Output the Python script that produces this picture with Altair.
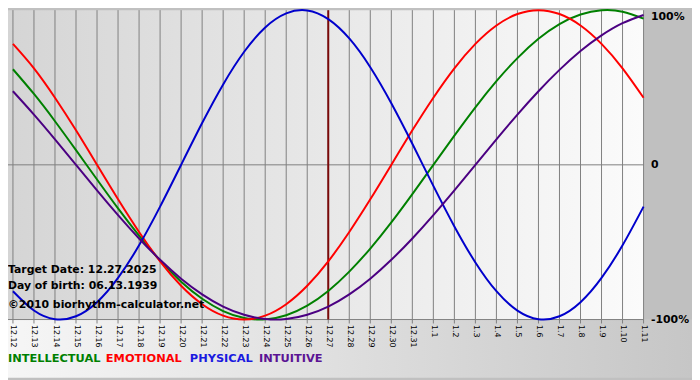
import altair as alt
import pandas as pd

# ---- data ----
days = ["12.12", "12.13", "12.14", "12.15", "12.16", "12.17", "12.18", "12.19", "12.20",
        "12.21", "12.22", "12.23", "12.24", "12.25", "12.26", "12.27", "12.28", "12.29",
        "12.30", "12.31", "1.1", "1.2", "1.3", "1.4", "1.5", "1.6", "1.7", "1.8", "1.9",
        "1.10", "1.11"]

physical = [-81.7, -94.2, -99.8, -97.9, -88.8, -73.1, -52.0, -27.0, 0.0, 27.0, 52.0,
            73.1, 88.8, 97.9, 99.8, 94.2, 81.7, 63.1, 39.8, 13.6, -13.6, -39.8, -63.1,
            -81.7, -94.2, -99.8, -97.9, -88.8, -73.1, -52.0, -27.0]
emotional = [78.2, 62.4, 43.4, 22.3, 0.0, -22.3, -43.4, -62.4, -78.2, -90.1, -97.5,
             -100.0, -97.5, -90.1, -78.2, -62.4, -43.4, -22.3, 0.0, 22.3, 43.4, 62.4,
             78.2, 90.1, 97.5, 100.0, 97.5, 90.1, 78.2, 62.4, 43.4]
intellectual = [61.8, 45.8, 28.2, 9.5, -9.5, -28.2, -45.8, -61.8, -75.6, -86.6, -94.5,
                -99.0, -99.9, -97.2, -91.0, -81.5, -69.0, -54.1, -37.2, -18.9, 0.0, 18.9,
                37.2, 54.1, 69.0, 81.5, 91.0, 97.2, 99.9, 99.0, 94.5]
intuitive = [47.6, 32.5, 16.5, 0.0, -16.5, -32.5, -47.6, -61.4, -73.6, -83.7, -91.6,
             -96.9, -99.7, -99.7, -96.9, -91.6, -83.7, -73.6, -61.4, -47.6, -32.5, -16.5,
             0.0, 16.5, 32.5, 47.6, 61.4, 73.6, 83.7, 91.6, 96.9]

series_names = ["INTELLECTUAL", "EMOTIONAL", "PHYSICAL", "INTUITIVE"]
series_colors = ["#008000", "#ff0000", "#0000cc", "#4b0082"]
legend_colors = ["#008000", "#ff0000", "#1a1ae0", "#5b1494"]
target_day = "12.27"
y_ticks = [-100, 0, 100]
h_lines = [0, -100]
info_lines = ["Target Date: 12.27.2025", "Day of birth: 06.13.1939",
              "\u00a92010 biorhythm-calculator.net"]

# ---- layout ----
PAD_L = 5
W, H = 643 - PAD_L, 313
PAD_R, PAD_B = 49, 59
info_y = [263, 279, 298]
legend_x = [0, 99, 184, 254]
legend_y = 353
FONT = "DejaVu Sans"

rows = []
for name, vals in zip(series_names, [intellectual, emotional, physical, intuitive]):
    for d, v in zip(days, vals):
        rows.append({"day": d, "series": name, "value": v})
df = pd.DataFrame(rows)

xscale = alt.Scale(type="point", padding=0, domain=days)
yscale = alt.Scale(domain=[-100, 100], nice=False, zero=False)

x_axis = alt.Axis(title=None, labelAngle=90, labelAlign="left", labelBaseline="middle",
                  labelFont=FONT, labelFontSize=8, labelColor="#000000",
                  labelPadding=5, ticks=False, domain=False, grid=False,
                  labelOverlap=False, zindex=1)
y_axis = alt.Axis(orient="right", title=None, values=y_ticks,
                  labelExpr="datum.value == 0 ? '0' : datum.value + '%'",
                  labelFont=FONT, labelFontSize=11, labelFontWeight="bold",
                  labelColor="#000000", labelPadding=7, labelAlign="left",
                  labelBaseline={"condition": {"test": "datum.value == 100", "value": "top"},
                                 "value": "middle"},
                  ticks=False, domain=False, grid=False,
                  labelFlush=False, zindex=1)

one = alt.Data(values=[{"a": 1}])

plot_bg = alt.Chart(one).mark_rect(
    fill=alt.LinearGradient(gradient="linear",
                            stops=[alt.GradientStop(color="#d5d5d5", offset=0),
                                   alt.GradientStop(color="#fbfbfb", offset=1)],
                            x1=0, x2=1, y1=0, y2=0)
).encode(x=alt.value(-PAD_L), x2=alt.value(W), y=alt.value(0), y2=alt.value(H))

bottom_bg = alt.Chart(one).mark_rect(
    fill=alt.LinearGradient(gradient="linear",
                            stops=[alt.GradientStop(color="#f6f6f6", offset=0),
                                   alt.GradientStop(color="#c6c6c6", offset=1)],
                            x1=0, x2=1, y1=0, y2=0)
).encode(x=alt.value(-PAD_L), x2=alt.value(W + PAD_R), y=alt.value(H), y2=alt.value(H + PAD_B))

grid_v = alt.Chart(pd.DataFrame({"day": days})).mark_rule(color="#808080", strokeWidth=1).encode(
    x=alt.X("day:O", scale=xscale, sort=days, axis=x_axis),
    y=alt.value(0), y2=alt.value(H + 4))

grid_h = alt.Chart(pd.DataFrame({"v": h_lines})).mark_rule(color="#808080", strokeWidth=1).encode(
    y=alt.Y("v:Q", scale=yscale, axis=y_axis),
    x=alt.value(-PAD_L), x2=alt.value(W))

target = alt.Chart(pd.DataFrame({"day": [target_day]})).mark_rule(
    color="#7a0a0a", strokeWidth=2).encode(
    x=alt.X("day:O", scale=xscale, sort=days, axis=x_axis),
    y=alt.value(0), y2=alt.value(H))

lines = alt.Chart(df).mark_line(strokeWidth=2, interpolate="natural").encode(
    x=alt.X("day:O", scale=xscale, sort=days, axis=x_axis),
    y=alt.Y("value:Q", scale=yscale, axis=y_axis),
    color=alt.Color("series:N", scale=alt.Scale(domain=series_names, range=series_colors),
                    legend=None),
    detail="series:N",
)

layers = [plot_bg, bottom_bg, grid_v, grid_h, target, lines]

for s, yy in zip(info_lines, info_y):
    layers.append(alt.Chart(one).mark_text(
        text=s, align="left", baseline="middle", font=FONT, fontSize=11,
        fontWeight="bold", color="#000000").encode(x=alt.value(-PAD_L), y=alt.value(yy)))

for s, c, xx in zip(series_names, legend_colors, legend_x):
    layers.append(alt.Chart(one).mark_text(
        text=s, align="left", baseline="middle", font=FONT, fontSize=11.5,
        fontWeight="bold", color=c).encode(x=alt.value(xx - PAD_L), y=alt.value(legend_y)))

chart = alt.layer(*layers).properties(
    width=W, height=H,
    autosize=alt.AutoSizeParams(type="none"),
    padding={"left": PAD_L, "top": 0, "right": PAD_R, "bottom": PAD_B},
    background="#c0c0c0",
).configure_view(stroke=None)

chart.save("out.html", embed_options={"renderer": "svg", "actions": False})
